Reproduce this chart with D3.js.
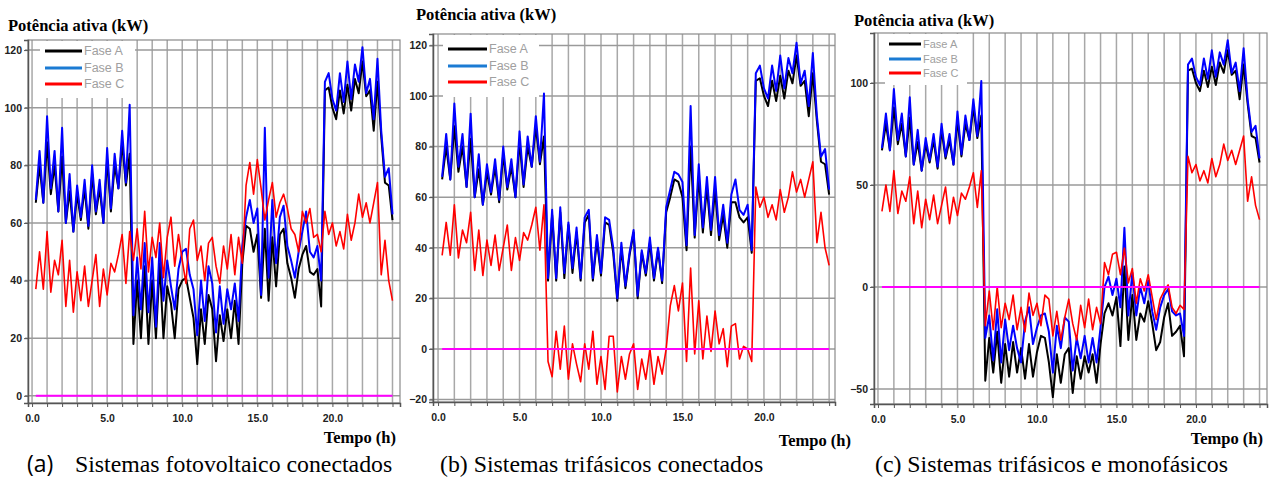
<!DOCTYPE html>
<html>
<head>
<meta charset="utf-8">
<script src="https://cdn.jsdelivr.net/npm/d3@7/dist/d3.min.js"></script>
<style>
body { margin: 0; background: #fff; }
</style>
</head>
<body>
<svg id="fig" width="1271" height="482"></svg>
<script>
// tempo (h): amostras de 15 min, 0.25 .. 24.0
var tempo = d3.range(1, 97).map(function(i){ return i / 4; });

var fases = ["Fase A", "Fase B", "Fase C"];
var xTickLabels = [0, 5, 10, 15, 20];

// trechos comuns (madrugada 0.25-6.5 h e noite 19.5-24 h)
var madrugadaA = [67, 80, 67, 88, 70, 80, 64, 83, 60, 71, 57, 70, 61, 72, 58, 77, 63, 72, 60, 82, 64, 80, 72, 88, 73, 84];
var madrugadaB = [68, 85, 67, 97, 72, 85, 64, 93, 60, 77, 57, 73, 62, 75, 59, 80, 64, 75, 60, 86, 65, 84, 72, 92, 74, 101];
var madrugadaC = [37, 50, 37, 57, 36, 47, 42, 54, 31, 47, 29, 43, 33, 45, 31, 40, 49, 31, 44, 35, 46, 43, 49, 56, 39, 57];
var noiteA = [106, 107, 100, 96, 106, 98, 108, 99, 110, 105, 116, 104, 106, 92, 109, 90, 74, 73, 61];
var noiteB = [109, 112, 103, 99, 112, 102, 116, 103, 115, 109, 121, 105, 110, 96, 117, 92, 76, 79, 63];
var noiteC = [64, 56, 60, 52, 57, 51, 63, 54, 60, 70, 62, 67, 60, 67, 74, 42, 54, 40, 33];

// (a) sistemas fotovoltaicos: manha 6.75-14.0 h e tarde 14.25-19.25 h
var pvManhaA = [18, 40, 20, 45, 18, 40, 20, 46, 20, 38, 32, 20, 37, 40, 41, 34, 27, 11, 30, 18, 35, 30, 12, 28, 19, 30, 20, 33, 18, 46];
var pvManhaB = [28, 48, 30, 53, 29, 48, 24, 53, 33, 47, 38, 30, 44, 50, 51, 42, 37, 21, 40, 26, 45, 39, 22, 38, 25, 37, 30, 39, 26, 52];
var pvManhaC = [47, 58, 44, 64, 43, 55, 48, 60, 41, 55, 62, 45, 56, 47, 39, 58, 61, 47, 52, 40, 53, 55, 45, 39, 52, 44, 56, 42, 55, 46];
var pvTardeA = [59, 58, 50, 56, 34, 58, 33, 55, 38, 56, 58, 46, 41, 34, 44, 49, 52, 43, 42, 44, 31];
var pvTardeB = [62, 68, 60, 65, 35, 93, 41, 68, 46, 62, 66, 52, 47, 41, 50, 57, 64, 50, 48, 52, 40];
var pvTardeC = [73, 81, 70, 82, 72, 61, 68, 74, 62, 67, 70, 65, 58, 56, 50, 64, 60, 65, 55, 56, 50];

// (b) sistemas trifasicos
var triManhaA = [27, 53, 27, 54, 28, 49, 30, 46, 27, 50, 53, 27, 43, 29, 50, 49, 38, 19, 40, 24, 37, 46, 20, 38, 29, 42, 27, 39, 26, 54];
var triManhaB = [28, 55, 28, 56, 30, 50, 32, 48, 28, 52, 55, 28, 45, 30, 52, 51, 40, 20, 42, 25, 38, 47, 21, 39, 30, 44, 28, 40, 27, 56];
var triManhaC = [-5, -11, 7, -8, 9, -12, 2, -6, -13, 2, -8, 7, -14, -3, -16, 5, 5, -17, -3, -12, -2, 2, -16, -4, -12, 0, -14, -3, -10, 0];
var triTardeA = [60, 67, 66, 60, 39, 80, 44, 68, 46, 64, 45, 63, 43, 53, 40, 58, 58, 52, 50, 52, 38];
var triTardeB = [63, 70, 69, 66, 41, 96, 45, 73, 48, 68, 47, 68, 45, 57, 42, 61, 67, 55, 53, 57, 39];
var triTardeC = [17, 25, 15, 26, -5, 32, -2, 19, -4, 13, -1, 15, 2, 8, -7, 9, 10, -4, 1, 0, -5];

// (c) sistemas trifasicos e monofasicos
var monoManhaA = [-46, -25, -42, -22, -47, -28, -44, -27, -42, -30, -45, -28, -44, -32, -24, -25, -37, -54, -33, -47, -33, -30, -52, -34, -45, -34, -42, -33, -47, -28];
var monoManhaB = [-25, -14, -36, -11, -37, -16, -31, -19, -30, -37, -17, -10, -28, -20, -14, -13, -22, -42, -19, -30, -15, -17, -41, -25, -35, -24, -37, -25, -37, -20];
var monoManhaC = [-19, -2, -21, 0, -20, -8, -16, -4, -21, -10, -22, -3, -14, -8, -19, -4, -6, -24, -12, -26, -15, -6, -18, -26, -9, -20, -6, -21, -10, -18];
var monoTardeA = [-13, -8, -14, -5, -29, 10, -26, -4, -26, -13, -17, -7, -18, -31, -27, -15, -8, -24, -22, -19, -34];
var monoTardeB = [0, 5, -4, 4, -10, 29, -14, 7, -14, 0, -8, 3, -12, -21, -10, -4, -1, -12, -14, -13, -24];
var monoTardeC = [12, 6, 16, 17, 6, 19, 2, 9, -8, 4, -2, 6, -5, -16, -6, -2, 1, -10, -13, -9, -11];

var cores = ["#000000", "#0000ff", "#ff0000"];
var coresLegenda = ["#000000", "#1b7bd3", "#ff0000"];
var SERIF = "'Liberation Serif', 'Times New Roman', serif";
var SANS = "'Liberation Sans', Arial, sans-serif";

function serie(a, b, c, d) { return a.concat(b, c, d); }

var paineis = [
  {
    box: [28, 40, 400, 403], xDom: [-0.27, 24.5], yDom: [-2.5, 123.5],
    yTicks: [0, 20, 40, 60, 80, 100, 120],
    dados: [serie(madrugadaA, pvManhaA, pvTardeA, noiteA),
            serie(madrugadaB, pvManhaB, pvTardeB, noiteB),
            serie(madrugadaC, pvManhaC, pvTardeC, noiteC)],
    titulo: [8, 31], tempoLbl: [396, 443],
    legenda: { x: 40, y: 41, w: 95, h: 57, l0: 45, l1: 82, rows: [51, 68, 84], fs: 12.5 },
    legendaTxt: "Sistemas fotovoltaico conectados"
  },
  {
    box: [433, 34, 835, 402], xDom: [-0.31, 24.36], yDom: [-21, 124.5],
    yTicks: [-20, 0, 20, 40, 60, 80, 100, 120],
    dados: [serie(madrugadaA, triManhaA, triTardeA, noiteA),
            serie(madrugadaB, triManhaB, triTardeB, noiteB),
            serie(madrugadaC, triManhaC, triTardeC, noiteC)],
    titulo: [416, 20], tempoLbl: [851, 446],
    legenda: { x: 443, y: 35, w: 96, h: 62, l0: 448, l1: 487, rows: [49, 66, 82], fs: 12.5 },
    legendaTxt: "(b) Sistemas trifásicos conectados"
  },
  {
    box: [874, 33, 1267, 404], xDom: [-0.25, 24.47], yDom: [-57.4, 124.5],
    yTicks: [-50, 0, 50, 100],
    dados: [serie(madrugadaA, monoManhaA, monoTardeA, noiteA),
            serie(madrugadaB, monoManhaB, monoTardeB, noiteB),
            serie(madrugadaC, monoManhaC, monoTardeC, noiteC)],
    titulo: [854, 26], tempoLbl: [1263, 444],
    legenda: { x: 885, y: 34, w: 82, h: 51, l0: 889, l1: 921, rows: [44, 59, 73], fs: 11 },
    legendaTxt: "(c) Sistemas trifásicos e monofásicos"
  }
];

var svg = d3.select("#fig");

function estiloEixo(s) {
  s.attr("font-family", SANS);
  s.select(".domain").attr("stroke", "#555").attr("stroke-width", 1.5);
  s.selectAll("line").attr("stroke", "#555");
  s.selectAll("text").attr("font-size", 10.5).attr("font-weight", "bold").attr("fill", "#222");
}

paineis.forEach(function(p){
  var x = d3.scaleLinear().domain(p.xDom).range([p.box[0], p.box[2]]);
  var y = d3.scaleLinear().domain(p.yDom).range([p.box[3], p.box[1]]);
  var g = svg.append("g");

  // grade
  g.selectAll(".vg").data(d3.range(0, 25)).enter().append("line")
    .attr("x1", function(d){ return x(d); }).attr("x2", function(d){ return x(d); })
    .attr("y1", p.box[1]).attr("y2", p.box[3])
    .attr("stroke", "#a8a8a8").attr("stroke-width", 1.5);
  g.selectAll(".hg").data(p.yTicks).enter().append("line")
    .attr("x1", p.box[0] - 3).attr("x2", p.box[2])
    .attr("y1", function(d){ return y(d); }).attr("y2", function(d){ return y(d); })
    .attr("stroke", "#9a9a9a").attr("stroke-width", 1.5);

  // legenda (fundo branco sobre a grade)
  var L = p.legenda;
  g.append("rect").attr("x", L.x).attr("y", L.y).attr("width", L.w).attr("height", L.h).attr("fill", "#fff");

  // moldura
  g.append("rect")
    .attr("x", p.box[0]).attr("y", p.box[1])
    .attr("width", p.box[2] - p.box[0]).attr("height", p.box[3] - p.box[1])
    .attr("fill", "none").attr("stroke", "#8a8a8a").attr("stroke-width", 1.2);

  // eixos
  g.append("g").attr("transform", "translate(" + p.box[0] + ",0)")
    .call(d3.axisLeft(y).tickValues(p.yTicks).tickSize(4).tickPadding(2))
    .call(estiloEixo);

  g.append("g").attr("transform", "translate(0," + p.box[3] + ")")
    .call(d3.axisBottom(x).tickValues(d3.range(0, 25)).tickSize(4).tickPadding(8)
      .tickFormat(function(d){ return xTickLabels.indexOf(d) >= 0 ? d3.format(".1f")(d) : ""; }))
    .call(estiloEixo);

  // series
  var linha = d3.line()
    .x(function(d, i){ return x(tempo[i]); })
    .y(function(d){ return y(d); });
  p.dados.forEach(function(s, j){
    g.append("path").datum(s)
      .attr("d", linha)
      .attr("fill", "none")
      .attr("stroke", cores[j])
      .attr("stroke-width", j == 2 ? 1.6 : 2)
      .attr("stroke-linejoin", "round");
  });
  g.append("line")
    .attr("x1", x(tempo[0])).attr("x2", x(24))
    .attr("y1", y(0)).attr("y2", y(0))
    .attr("stroke", "#ff00ff").attr("stroke-width", 2);

  // itens da legenda
  fases.forEach(function(f, j){
    g.append("line").attr("x1", L.l0).attr("x2", L.l1)
      .attr("y1", L.rows[j]).attr("y2", L.rows[j])
      .attr("stroke", coresLegenda[j]).attr("stroke-width", 3);
    g.append("text").attr("x", L.l1 + 2).attr("y", L.rows[j] + 4)
      .attr("font-family", SANS)
      .attr("font-size", L.fs).attr("fill", "#a0a0a0").text(f);
  });

  // titulos
  g.append("text").attr("x", p.titulo[0]).attr("y", p.titulo[1])
    .attr("font-family", SERIF)
    .attr("font-size", 16.5).attr("font-weight", "bold").text("Potência ativa (kW)");
  g.append("text").attr("x", p.tempoLbl[0]).attr("y", p.tempoLbl[1])
    .attr("text-anchor", "end")
    .attr("font-family", SERIF)
    .attr("font-size", 16.5).attr("font-weight", "bold").text("Tempo (h)");
});

// legendas inferiores
svg.append("text").attr("x", 27).attr("y", 472)
  .attr("font-family", "'Open Sans', sans-serif").attr("font-size", 23).text("(a)");
svg.append("text").attr("x", 75).attr("y", 472)
  .attr("font-family", SERIF).attr("font-size", 23.8).text(paineis[0].legendaTxt);
svg.append("text").attr("x", 440).attr("y", 472)
  .attr("font-family", SERIF).attr("font-size", 23.8).text(paineis[1].legendaTxt);
svg.append("text").attr("x", 875).attr("y", 472)
  .attr("font-family", SERIF).attr("font-size", 23.8).text(paineis[2].legendaTxt);
</script>
</body>
</html>
